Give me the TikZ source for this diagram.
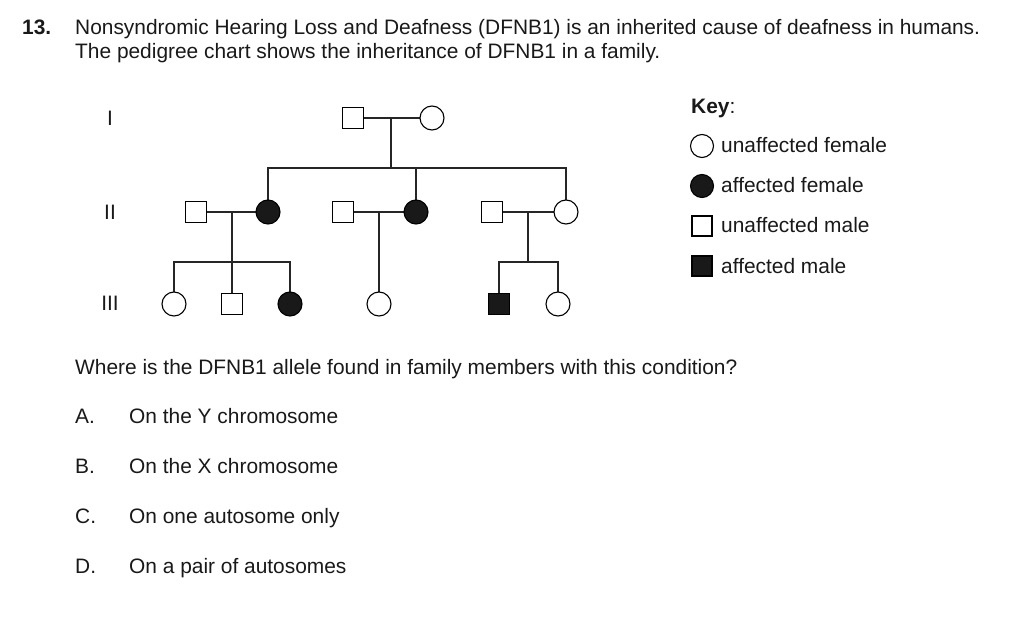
\documentclass[tikz,border=0pt]{standalone}
\usepackage{fontspec}
\setmainfont{Liberation Sans}
\begin{document}
\begin{tikzpicture}[x=1pt,y=-1pt,
  fem/.style={circle,draw=black,line width=1.1pt,fill=white,minimum size=24pt,inner sep=0pt},
  afem/.style={fem,fill=black!90},
  mal/.style={rectangle,draw=black,line width=1.1pt,fill=white,minimum size=21pt,inner sep=0pt},
  amal/.style={mal,fill=black!90},
  ln/.style={line width=1.8pt,black!85},
  txt/.style={anchor=base west,inner sep=0pt,font=\fontsize{20.9}{24}\selectfont,text=black!90},
  keyfem/.style={fem,minimum size=23pt},
  keymal/.style={mal,minimum size=20pt}]
\useasboundingbox (0,0) rectangle (1024,620);
% header
\node[txt,font=\fontsize{20.9}{24}\selectfont\bfseries] (num) at (22,35) {13.};
\node[txt] (l1) at (75,35) {Nonsyndromic Hearing Loss and Deafness (DFNB1) is an inherited cause of deafness in humans.};
\node[txt] (l2) at (75,59) {The pedigree chart shows the inheritance of DFNB1 in a family.};
% generation labels
\node[txt,anchor=center] (gI) at (110,118) {I};
\node[txt,anchor=center] (gII) at (110,212) {II};
\node[txt,anchor=center] (gIII) at (110,303) {III};
% coordinates
\coordinate (c1) at (391,118);
\coordinate (s1) at (391,168);
\coordinate (sL) at (268,168);
\coordinate (sM) at (416,168);
\coordinate (sR) at (566,168);
\coordinate (c2) at (232,212);
\coordinate (c3) at (379,212);
\coordinate (c4) at (528,212);
\coordinate (t2) at (232,262);
\coordinate (t2L) at (174,262);
\coordinate (t2R) at (290,262);
\coordinate (t4) at (528,262);
\coordinate (t4L) at (499,262);
\coordinate (t4R) at (558,262);
% lines
\draw[ln] (353,118) -- (432,118);
\draw[ln] (c1) -- (s1);
\draw[ln] (268,212) |- (sL) -- (sR) -- (566,212);
\draw[ln] (sM) -- (416,212);
\draw[ln] (196,212) -- (268,212);
\draw[ln] (343,212) -- (416,212);
\draw[ln] (492,212) -- (566,212);
\draw[ln] (c2) -- (t2);
\draw[ln] (174,304) -- (t2L) -- (t2R) -- (290,304);
\draw[ln] (t2) -- (232,304);
\draw[ln] (c3) -- (379,304);
\draw[ln] (c4) -- (t4);
\draw[ln] (499,304) -- (t4L) -- (t4R) -- (558,304);
% generation I
\node[mal] (i1) at (353,118) {};
\node[fem] (i2) at (432,118) {};
% generation II
\node[mal] (ii1) at (196,212) {};
\node[afem] (ii2) at (268,212) {};
\node[mal] (ii3) at (343,212) {};
\node[afem] (ii4) at (416,212) {};
\node[mal] (ii5) at (492,212) {};
\node[fem] (ii6) at (566,212) {};
% generation III
\node[fem] (iii1) at (174,304) {};
\node[mal] (iii2) at (232,304) {};
\node[afem] (iii3) at (290,304) {};
\node[fem] (iii4) at (379,304) {};
\node[amal] (iii5) at (499,304) {};
\node[fem] (iii6) at (558,304) {};
% key
\node[txt] (key) at (691,114) {\textbf{Key}:};
\node[keyfem] (k1) at (702,146) {};
\node[txt] (k1t) at (721,153) {unaffected female};
\node[keyfem,fill=black!90] (k2) at (702,186) {};
\node[txt] (k2t) at (721,193) {affected female};
\node[keymal] (k3) at (702,226) {};
\node[txt] (k3t) at (721,233) {unaffected male};
\node[keymal,fill=black!90] (k4) at (702,266) {};
\node[txt] (k4t) at (721,273) {affected male};
% question
\node[txt] (q) at (75,374) {Where is the DFNB1 allele found in family members with this condition?};
\node[txt] (oA) at (75,423) {A.};
\node[txt] (tA) at (129,423) {On the Y chromosome};
\node[txt] (oB) at (75,473) {B.};
\node[txt] (tB) at (129,473) {On the X chromosome};
\node[txt] (oC) at (75,523) {C.};
\node[txt] (tC) at (129,523) {On one autosome only};
\node[txt] (oD) at (75,573) {D.};
\node[txt] (tD) at (129,573) {On a pair of autosomes};
\end{tikzpicture}
\end{document}
